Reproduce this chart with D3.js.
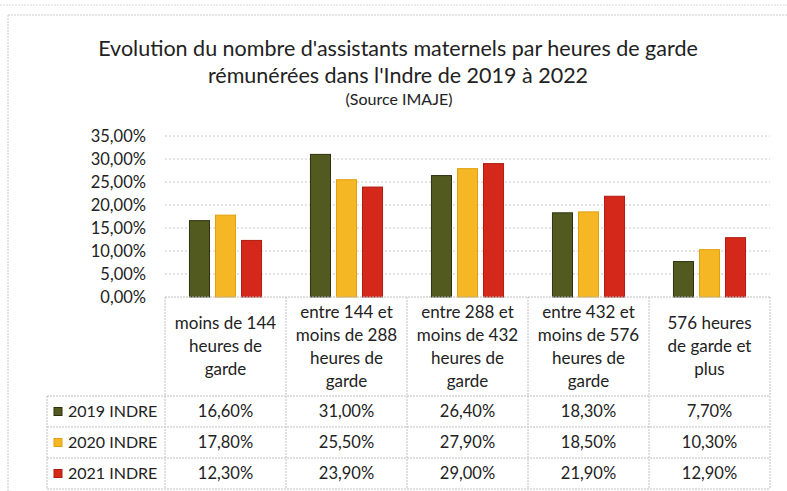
<!DOCTYPE html>
<html>
<head>
<meta charset="utf-8">
<script src="https://cdn.jsdelivr.net/npm/d3@7"></script>
<style>
  body { margin: 0; background: #fff; }
  text { font-family: Lato, "Open Sans", sans-serif; fill: #222; }
</style>
</head>
<body>
<div id="chart"></div>
<script>
// data
var categories = [
  "moins de 144|heures de|garde",
  "entre 144 et|moins de 288|heures de|garde",
  "entre 288 et|moins de 432|heures de|garde",
  "entre 432 et|moins de 576|heures de|garde",
  "576 heures|de garde et|plus"
];
var seriesNames = ["2019 INDRE", "2020 INDRE", "2021 INDRE"];
var values2019 = [0.166, 0.310, 0.264, 0.183, 0.077];
var values2020 = [0.178, 0.255, 0.279, 0.185, 0.103];
var values2021 = [0.123, 0.239, 0.290, 0.219, 0.129];
var yTicks = [0, 0.05, 0.10, 0.15, 0.20, 0.25, 0.30, 0.35];

var colors = ["#525a1f", "#f5b824", "#d4281b"];
var strokes = ["#2c3210", "#e0a010", "#b01c10"];

var W = 787, H = 491;
var plot = {left: 165, right: 770, top: 136, bottom: 297};
var tbl = {legendLeft: 47, headerBottom: 396, rowH: 31};

var fr = d3.formatLocale({decimal: ",", thousands: " ", grouping: [3], currency: ["", "€"]});
var pct = fr.format(".2%");

var svg = d3.select("#chart").append("svg")
    .attr("width", W)
    .attr("height", H);

// page frame lines (scan)
svg.append("line")
  .attr("x1", 0).attr("x2", W).attr("y1", 5).attr("y2", 5)
  .attr("stroke", "#d8d8d8").attr("stroke-dasharray", "2,1");
svg.append("line")
  .attr("x1", 8).attr("x2", W).attr("y1", 15).attr("y2", 15)
  .attr("stroke", "#cfcfcf").attr("stroke-dasharray", "2,1");
svg.append("line")
  .attr("x1", 8).attr("x2", 8).attr("y1", 15).attr("y2", H)
  .attr("stroke", "#c8c8c8").attr("stroke-dasharray", "2,1");

// title
svg.append("text")
  .attr("x", 398).attr("y", 56)
  .attr("text-anchor", "middle")
  .attr("font-size", "21.5px")
  .text("Evolution du nombre d'assistants maternels par heures de garde");
svg.append("text")
  .attr("x", 398).attr("y", 83)
  .attr("text-anchor", "middle")
  .attr("font-size", "21.5px")
  .text("rémunérées dans l'Indre de 2019 à 2022");
svg.append("text")
  .attr("x", 399).attr("y", 105)
  .attr("text-anchor", "middle")
  .attr("font-size", "16px")
  .text("(Source IMAJE)");

var x = d3.scaleBand()
  .domain(categories)
  .range([plot.left, plot.right])
  .padding(0);

var xs = d3.scaleBand()
  .domain(seriesNames)
  .range([0, x.bandwidth()])
  .paddingInner(0.23)
  .paddingOuter(0.94);

var y = d3.scaleLinear()
  .domain([0, 0.35])
  .range([plot.bottom, plot.top]);

// gridlines
svg.append("g")
  .selectAll("line")
  .data(yTicks.slice(1))
  .enter()
  .append("line")
    .attr("x1", plot.left).attr("x2", plot.right)
    .attr("y1", function(d){ return y(d) }).attr("y2", function(d){ return y(d) })
    .attr("stroke", "#cacaca")
    .attr("stroke-dasharray", "2,2");

// y axis
var yAxis = svg.append("g")
  .attr("transform", "translate(" + (plot.left - 1) + ",0)")
  .call(d3.axisLeft(y).tickValues(yTicks).tickFormat(pct).tickSize(0).tickPadding(18));
yAxis.select(".domain").remove();
yAxis.selectAll("text")
  .attr("font-size", "16.5px")
  .attr("font-family", "Lato, sans-serif")
  .attr("fill", "#222");

// bars
var allSeries = [values2019, values2020, values2021];
allSeries.forEach(function(vals, si){
  svg.append("g")
    .selectAll("rect")
    .data(vals)
    .enter()
    .append("rect")
      .attr("x", function(d, i){ return x(categories[i]) + xs(seriesNames[si]) })
      .attr("y", function(d){ return y(d) })
      .attr("width", xs.bandwidth())
      .attr("height", function(d){ return y(0) - y(d) })
      .attr("fill", colors[si])
      .attr("stroke", strokes[si])
      .attr("stroke-width", 1);
});

// data table
var gridColor = "#c0c0c0";
var tableBottom = tbl.headerBottom + tbl.rowH * seriesNames.length;
var tableLines = svg.append("g")
  .attr("stroke", gridColor)
  .attr("stroke-dasharray", "2,1");

// horizontal lines
tableLines.append("line")
  .attr("x1", plot.left).attr("x2", plot.right)
  .attr("y1", plot.bottom).attr("y2", plot.bottom);
d3.range(seriesNames.length + 1).forEach(function(r){
  var yy = tbl.headerBottom + r * tbl.rowH;
  tableLines.append("line")
    .attr("x1", tbl.legendLeft).attr("x2", plot.right)
    .attr("y1", yy).attr("y2", yy);
});
// vertical lines
categories.forEach(function(c){
  tableLines.append("line")
    .attr("x1", x(c)).attr("x2", x(c))
    .attr("y1", plot.bottom).attr("y2", tableBottom);
});
tableLines.append("line")
  .attr("x1", plot.right).attr("x2", plot.right)
  .attr("y1", plot.bottom).attr("y2", tableBottom);
tableLines.append("line")
  .attr("x1", tbl.legendLeft).attr("x2", tbl.legendLeft)
  .attr("y1", tbl.headerBottom).attr("y2", tableBottom);

// header labels
var headerMid = (plot.bottom + tbl.headerBottom) / 2;
categories.forEach(function(c){
  var lines = c.split("|");
  var lh = 23;
  var y0 = headerMid - (lines.length - 1) * lh / 2;
  lines.forEach(function(l, li){
    svg.append("text")
      .attr("x", x(c) + x.bandwidth() / 2)
      .attr("y", y0 + li * lh)
      .attr("dy", "0.35em")
      .attr("text-anchor", "middle")
      .attr("font-size", "17px")
      .text(l);
  });
});

// rows
allSeries.forEach(function(vals, si){
  var rowMid = tbl.headerBottom + si * tbl.rowH + tbl.rowH / 2;
  svg.append("rect")
    .attr("x", 54).attr("y", rowMid - 4)
    .attr("width", 8).attr("height", 8)
    .attr("fill", colors[si])
    .attr("stroke", strokes[si]);
  svg.append("text")
    .attr("x", 68).attr("y", rowMid)
    .attr("dy", "0.35em")
    .attr("font-size", "16px")
    .text(seriesNames[si]);
  svg.append("g")
    .selectAll("text")
    .data(vals)
    .enter()
    .append("text")
      .attr("x", function(d, i){ return x(categories[i]) + x.bandwidth() / 2 })
      .attr("y", rowMid)
      .attr("dy", "0.35em")
      .attr("text-anchor", "middle")
      .attr("font-size", "16.5px")
      .text(function(d){ return pct(d) });
});
</script>
</body>
</html>
